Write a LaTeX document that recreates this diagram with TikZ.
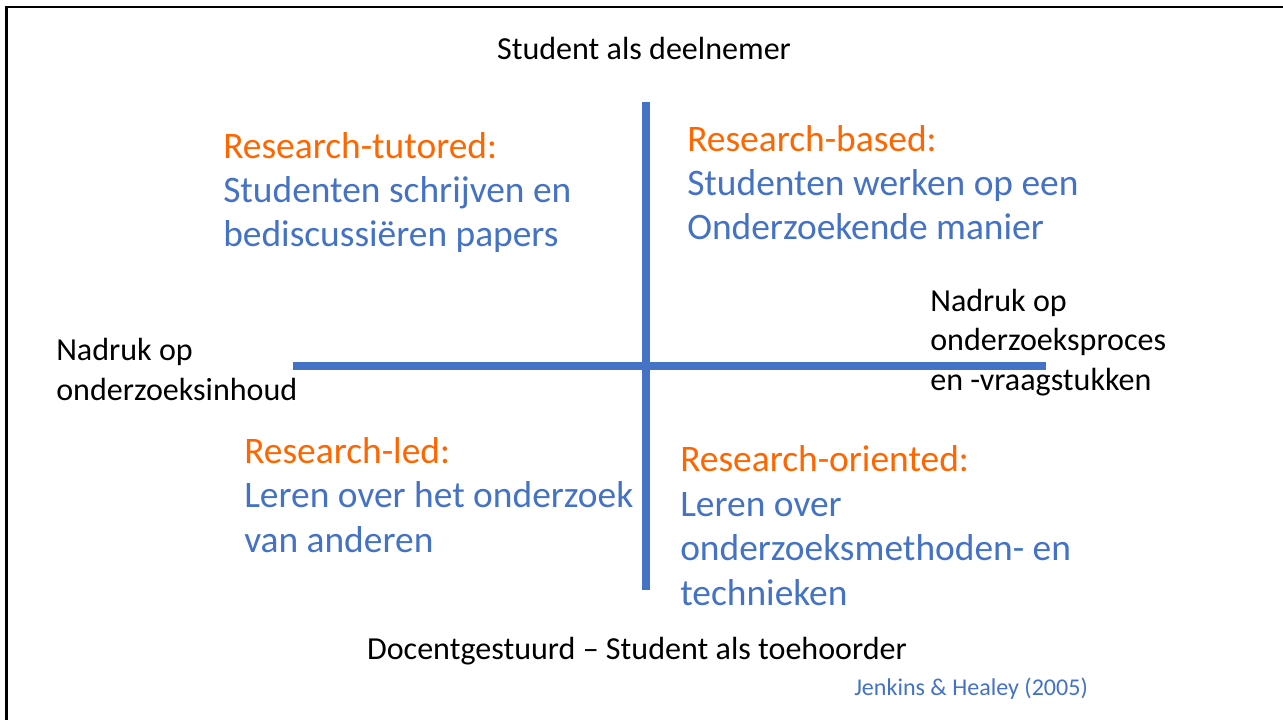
\documentclass[tikz,border=0pt]{standalone}
\usepackage{fontspec}
\setmainfont{Carlito}
\definecolor{slideorange}{RGB}{255,102,0}
\definecolor{slideblue}{RGB}{68,114,196}
\begin{document}
\begin{tikzpicture}[x=0.74825pt,y=-0.74825pt,
  quad/.style={anchor=base west,inner sep=0pt,align=left,font=\fontsize{28}{33.2}\selectfont,text=slideblue},
  axislabel/.style={inner sep=0pt,font=\fontsize{24}{29.2}\selectfont,text=black},
  axisline/.style={draw=slideblue,line width=6pt},
  frameline/.style={draw=black,line width=2.2pt}]
\useasboundingbox (0,0) rectangle (1283,720);
\fill[white] (0,0) rectangle (1283,720);
% frame (left and top edges)
\draw[frameline] (6.5,720) -- (6.5,7) -- (1283,7);
% axes
\coordinate (vtop) at (646,102);
\coordinate (vbot) at (646,590);
\coordinate (hleft) at (293,366);
\coordinate (hright) at (1046,366);
\draw[axisline] (vtop) -- (vbot);
\draw[axisline] (hleft) -- (hright);
% axis labels (multi-line nodes: base = baseline of last line)
\node[axislabel,anchor=base] (top) at (644,60) {Student als deelnemer};
\node[axislabel,anchor=base] (bottom) at (637,659) {Docentgestuurd – Student als toehoorder};
\node[axislabel,anchor=base west,align=left] (left) at (56,400) {Nadruk op\\onderzoeksinhoud};
\node[axislabel,anchor=base west,align=left] (right) at (930,390) {Nadruk op\\onderzoeksproces\\en -vraagstukken};
% quadrants
\node[quad] (tl) at (223,247) {\textcolor{slideorange}{Research-tutored:}\\Studenten schrijven en\\bediscussiëren papers};
\node[quad] (tr) at (687,240) {\textcolor{slideorange}{Research-based:}\\Studenten werken op een\\Onderzoekende manier};
\node[quad] (bl) at (244,552) {\textcolor{slideorange}{Research-led:}\\Leren over het onderzoek\\van anderen};
\node[quad] (br) at (680,605) {\textcolor{slideorange}{Research-oriented:}\\Leren over\\onderzoeksmethoden- en\\technieken};
% reference
\node[anchor=base west,inner sep=0pt,font=\fontsize{18}{22}\selectfont,text=slideblue] (ref) at (854,695) {Jenkins \& Healey (2005)};
\end{tikzpicture}
\end{document}
